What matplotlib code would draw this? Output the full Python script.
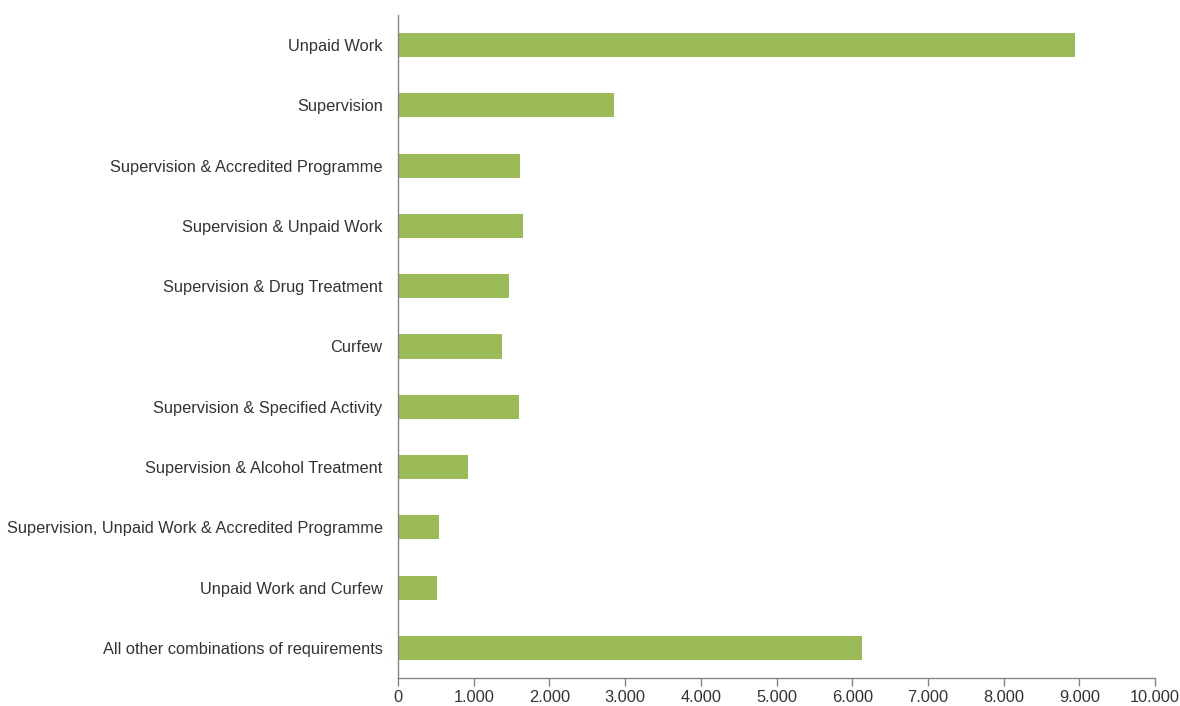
import matplotlib
matplotlib.use("Agg")
import matplotlib.pyplot as plt
from matplotlib.ticker import FuncFormatter

categories = [
    "Unpaid Work",
    "Supervision",
    "Supervision & Accredited Programme",
    "Supervision & Unpaid Work",
    "Supervision & Drug Treatment",
    "Curfew",
    "Supervision & Specified Activity",
    "Supervision & Alcohol Treatment",
    "Supervision, Unpaid Work & Accredited Programme",
    "Unpaid Work and Curfew",
    "All other combinations of requirements",
]
values = [8940, 2850, 1610, 1650, 1460, 1370, 1600, 920, 540, 510, 6130]
xticks = list(range(0, 10001, 1000))

plt.rcParams['font.family'] = ['Liberation Sans', 'DejaVu Sans']

fig = plt.figure(figsize=(11.8, 7.06), dpi=100)
ax = fig.add_axes([398/1180, 1-678/706, (1155-398)/1180, (678-15)/706])

y = list(range(len(categories)))
ax.barh(y, values, height=0.4, color='#9BBB59')
ax.set_ylim(len(categories)-0.5, -0.5)
ax.set_xlim(0, 10000)
ax.set_yticks(y)
ax.set_yticklabels(categories)
ax.set_xticks(xticks)
ax.xaxis.set_major_formatter(FuncFormatter(lambda v, p: f"{int(v):,}".replace(",", ".")))

for s in ['top', 'right']:
    ax.spines[s].set_visible(False)
for s in ['left', 'bottom']:
    ax.spines[s].set_color('#868686')
    ax.spines[s].set_linewidth(1.0)

ax.tick_params(axis='y', length=0, pad=11, labelsize=11.8, labelcolor='#333333')
ax.tick_params(axis='x', length=6, width=1, color='#868686', direction='out', pad=3, labelsize=11.8, labelcolor='#333333')

fig.savefig("out.png", dpi=100)
